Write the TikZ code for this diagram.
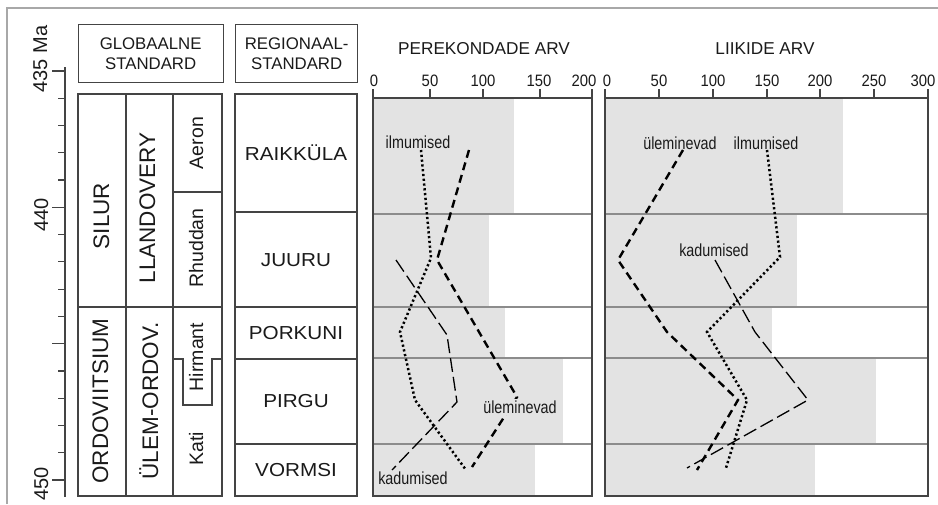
\documentclass[tikz,border=0pt]{standalone}
\usepackage{fontspec}
\setmainfont{Liberation Sans}
\newfontfamily\widefont[FakeStretch=1.1]{Liberation Sans}
\newfontfamily\narrowfont[FakeStretch=0.82]{Liberation Sans}
\newfontfamily\tickfont[FakeStretch=0.9]{Liberation Sans}
\definecolor{barc}{HTML}{E3E3E3}
\definecolor{framec}{HTML}{444444}
\definecolor{rowc}{HTML}{8C8C8C}
\definecolor{outerc}{HTML}{A8A8A8}
\definecolor{txtc}{HTML}{1A1A1A}
\tikzset{
  boxline/.style={draw=framec,line width=1.3pt},
  rowline/.style={draw=rowc,line width=1.6pt},
  bar/.style={fill=barc,draw=none},
  ulem/.style={draw=black,line width=2.4pt,dash pattern=on 8pt off 5pt},
  ilmu/.style={draw=black,line width=2.5pt,dash pattern=on 2.2pt off 2.6pt},
  kadu/.style={draw=black,line width=1.3pt,dash pattern=on 14pt off 5pt},
  hdr/.style={font=\fontsize{16.8}{20}\selectfont,align=center,inner sep=0pt,text=txtc},
  reg/.style={font=\widefont\fontsize{18.8}{22}\selectfont,inner sep=0pt,text=txtc},
  vert/.style={rotate=90,anchor=base,inner sep=0pt,font=\fontsize{22.5}{26}\selectfont,text=txtc},
  vsmall/.style={rotate=90,anchor=base,inner sep=0pt,font=\fontsize{19.5}{22}\selectfont,text=txtc},
  ttl/.style={font=\fontsize{17.2}{20}\selectfont,inner sep=0pt,text=txtc},
  tick/.style={font=\tickfont\fontsize{16.5}{18}\selectfont,inner sep=0pt,text=txtc},
  clab/.style={font=\narrowfont\fontsize{17.5}{20}\selectfont,inner sep=0pt,text=txtc},
  ma/.style={rotate=90,anchor=base,inner sep=0pt,font=\fontsize{20}{22}\selectfont,text=txtc}
}
\begin{document}
\begin{tikzpicture}[x=1pt,y=-1pt]
\useasboundingbox (0,0) rectangle (938,504);
% outer frame (top and left)
\draw[outerc,line width=1.2pt] (7,504) -- (7,8) -- (938,8);

% ---------- time axis ----------
\draw[framec,line width=1.2pt] (65,67) -- (65,497);
\foreach \t in {0,...,15}{
  \pgfmathsetmacro{\yy}{71+\t*27.27}
  \draw[framec,line width=1.2pt] (58,\yy) -- (65,\yy);
}
\foreach \t in {0,5,10,15}{
  \pgfmathsetmacro{\yy}{71+\t*27.27}
  \draw[framec,line width=1.2pt] (52,\yy) -- (65,\yy);
}
\node[ma] (t435) at (47,59) {435 Ma};
\node[ma] (t440) at (48,215) {440};
\node[ma] (t450) at (48,484) {450};

% ---------- headers ----------
\node[boxline,minimum width=145pt,minimum height=58pt,anchor=north west] (hglob) at (77.5,24) {};
\node[hdr] (hglobt) at (hglob.center) {GLOBAALNE\\STANDARD};
\node[boxline,minimum width=122pt,minimum height=58pt,anchor=north west] (hreg) at (235,24) {};
\node[hdr] (hregt) at (hreg.center) {REGIONAAL-\\STANDARD};

% ---------- global column ----------
\draw[boxline] (78,94) rectangle (222,496);
\draw[boxline] (126,94) -- (126,496);
\draw[boxline] (173,94) -- (173,496);
\draw[boxline] (78,307) -- (222,307);
\draw[boxline] (173,192) -- (222,192);
\draw[boxline] (173,359) -- (183,359) -- (183,405) -- (212,405) -- (212,359) -- (222,359);
\node[vert] (silur) at (109,216) {SILUR};
\node[vert] (llan) at (155,208) {LLANDOVERY};
\node[vert] (ordo) at (108,401) {ORDOVIITSIUM};
\node[vert] (ulem) at (158,401) {ÜLEM-ORDOV.};
\node[vsmall] (aeron) at (203,143) {Aeron};
\node[vsmall] (rhud) at (203,248) {Rhuddan};
\node[vsmall] (hirm) at (203,357) {Hirmant};
\node[vsmall] (kati) at (203,449) {Kati};

% ---------- regional column ----------
\draw[boxline] (235,94) rectangle (357,496);
\foreach \yy in {212,307,359,444}{\draw[boxline] (235,\yy) -- (357,\yy);}
\node[reg] (raik) at (296,153) {RAIKKÜLA};
\node[reg] (juuru) at (296,260) {JUURU};
\node[reg] (pork) at (296,333) {PORKUNI};
\node[reg] (pirgu) at (296,401) {PIRGU};
\node[reg] (vorm) at (296,470) {VORMSI};

% ---------- chart 1: PEREKONDADE ARV ----------
\fill[barc] (373,98) rectangle (514,214);
\fill[barc] (373,214) rectangle (489,307);
\fill[barc] (373,307) rectangle (505,358);
\fill[barc] (373,358) rectangle (563,444);
\fill[barc] (373,444) rectangle (535,496);
\foreach \yy in {214,307,358,444}{\draw[rowline] (373,\yy) -- (592,\yy);}
\draw[boxline] (373,98) rectangle (592,496);
\foreach \xx in {373,430,483,540,592}{\draw[boxline] (\xx,89) -- (\xx,98);}
\node[tick] (a0) at (374,81) {0};
\node[tick] (a50) at (430,81) {50};
\node[tick] (a100) at (483,81) {100};
\node[tick] (a150) at (539,81) {150};
\node[tick] (a200) at (584,81) {200};
\node[ttl] (t1) at (484,49) {PEREKONDADE ARV};

\coordinate (pi1) at (421,150); \coordinate (pi2) at (431,258); \coordinate (pi3) at (400,332);
\coordinate (pi4) at (415,400); \coordinate (pi5) at (466,470);
\coordinate (pu1) at (469,150); \coordinate (pu2) at (437,260); \coordinate (pu3) at (517,397);
\coordinate (pu4) at (472,467);
\coordinate (pk1) at (396,260); \coordinate (pk2) at (447,335); \coordinate (pk3) at (457,402);
\coordinate (pk4) at (392,470);
\draw[ilmu] (pi1) -- (pi2) -- (pi3) -- (pi4) -- (pi5);
\draw[ulem] (pu1) -- (pu2) -- (pu3) -- (pu4);
\draw[kadu] (pk1) -- (pk2) -- (pk3) -- (pk4);
\node[clab] (l1i) at (418,142) {ilmumised};
\node[clab,fill=barc,inner sep=2pt] (l1u) at (520,407) {üleminevad};
\node[clab] (l1k) at (413,478) {kadumised};

% ---------- chart 2: LIIKIDE ARV ----------
\fill[barc] (605,98) rectangle (843,214);
\fill[barc] (605,214) rectangle (797,307);
\fill[barc] (605,307) rectangle (772,358);
\fill[barc] (605,358) rectangle (876,444);
\fill[barc] (605,444) rectangle (815,496);
\foreach \yy in {214,307,358,444}{\draw[rowline] (605,\yy) -- (928,\yy);}
\draw[boxline] (605,98) rectangle (928,496);
\foreach \xx in {605,659,713,767,820,874,928}{\draw[boxline] (\xx,89) -- (\xx,98);}
\node[tick] (b0) at (607,81) {0};
\node[tick] (b50) at (659,81) {50};
\node[tick] (b100) at (713,81) {100};
\node[tick] (b150) at (767,81) {150};
\node[tick] (b200) at (820,81) {200};
\node[tick] (b250) at (874,81) {250};
\node[tick] (b300) at (923,81) {300};
\node[ttl] (t2) at (765,49) {LIIKIDE ARV};

\coordinate (qu1) at (683,150); \coordinate (qu2) at (618,260); \coordinate (qu3) at (667,332);
\coordinate (qu4) at (738,400); \coordinate (qu5) at (697,470);
\coordinate (qi1) at (767,150); \coordinate (qi2) at (780,257); \coordinate (qi3) at (707,332);
\coordinate (qi4) at (747,400); \coordinate (qi5) at (726,468);
\coordinate (qk1) at (715,260); \coordinate (qk2) at (755,332); \coordinate (qk3) at (808,400);
\coordinate (qk4) at (687,468);
\draw[ulem] (qu1) -- (qu2) -- (qu3) -- (qu4) -- (qu5);
\draw[ilmu] (qi1) -- (qi2) -- (qi3) -- (qi4) -- (qi5);
\draw[kadu] (qk1) -- (qk2) -- (qk3) -- (qk4);
\node[clab] (l2u) at (680,143) {üleminevad};
\node[clab] (l2i) at (766,143) {ilmumised};
\node[clab] (l2k) at (714,250) {kadumised};
\end{tikzpicture}
\end{document}
